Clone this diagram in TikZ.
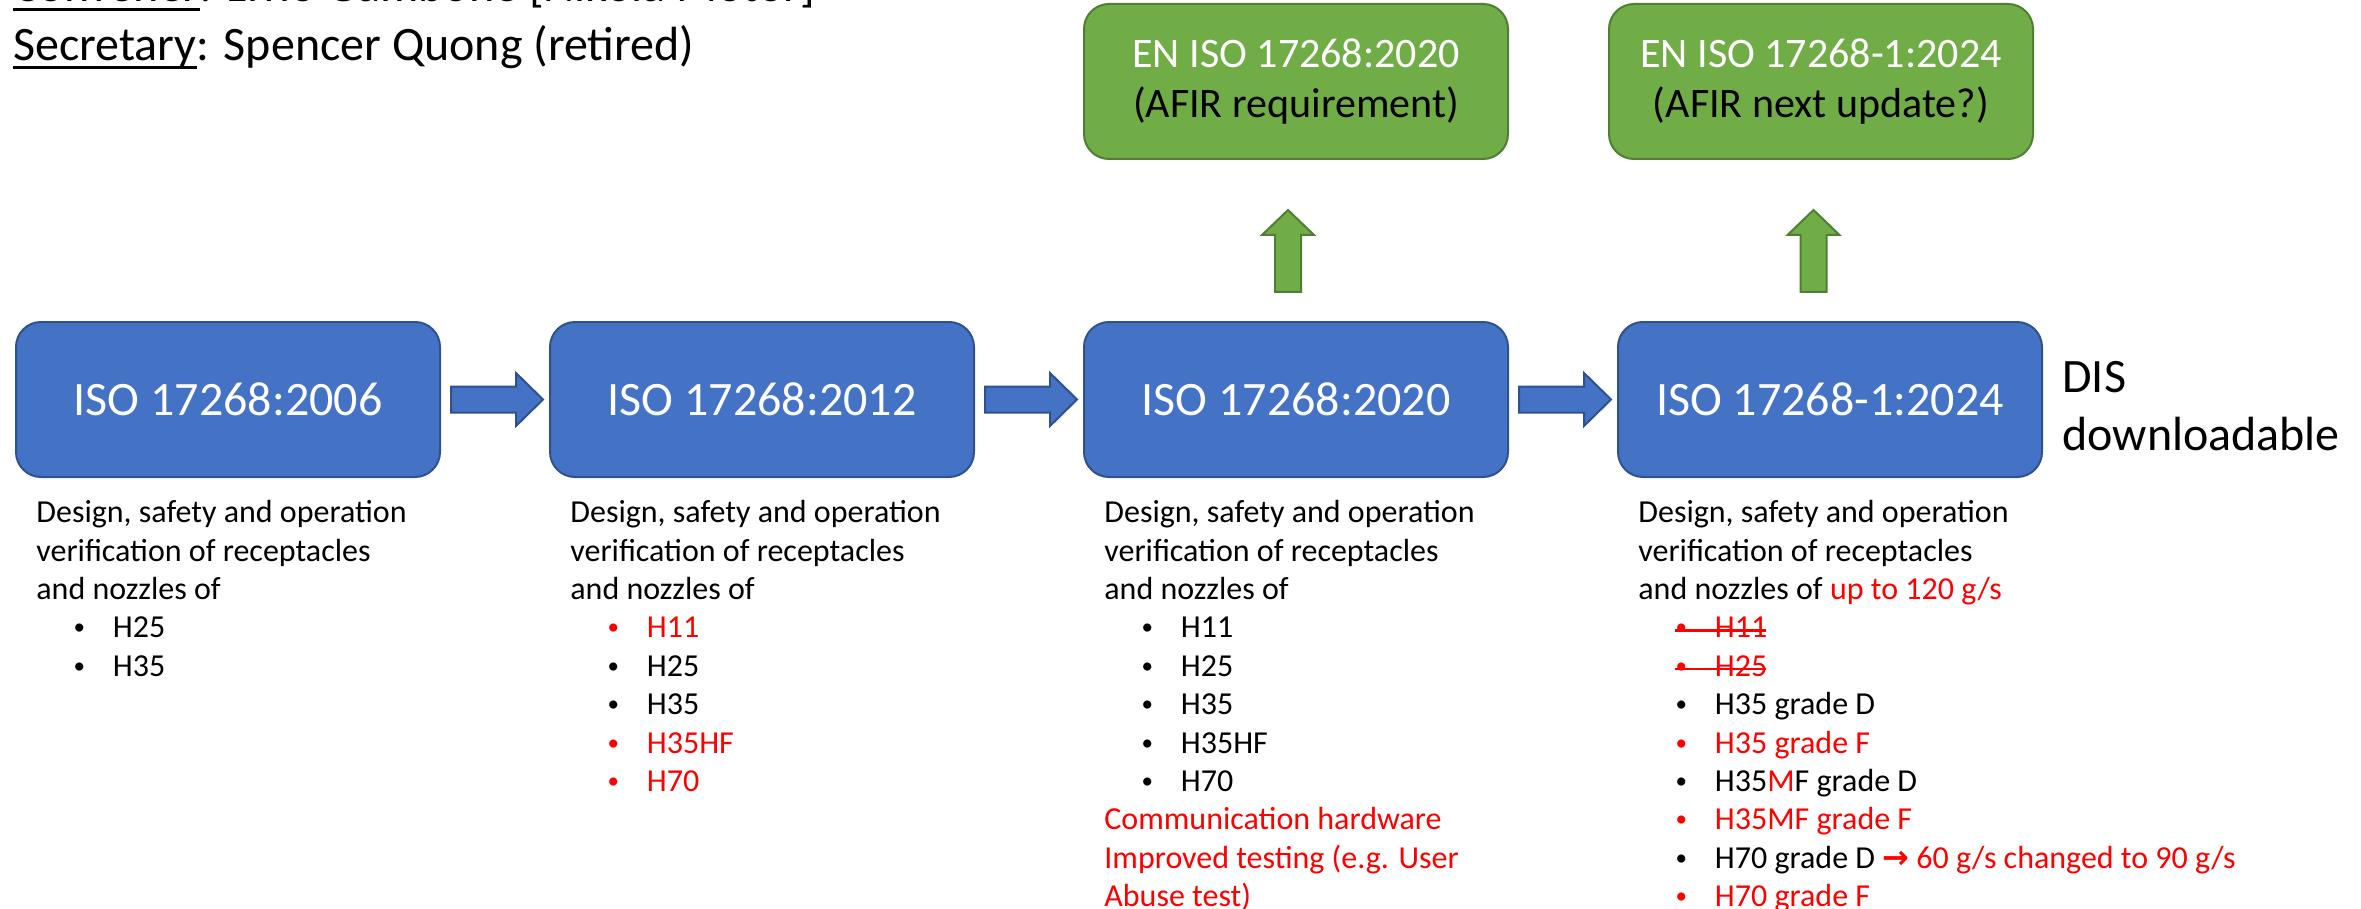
\documentclass[tikz,border=0pt]{standalone}
\usepackage{fontspec}
\setmainfont{Carlito}
\newfontfamily\symfont{DejaVu Sans}
\usetikzlibrary{positioning,calc}

\definecolor{isoblue}{HTML}{4472C4}
\definecolor{isoline}{HTML}{2F528F}
\definecolor{engreen}{HTML}{70AD47}
\definecolor{enline}{HTML}{507E32}
\definecolor{chg}{HTML}{FF0000}

% underlined word, rule set a bit below the baseline
\newcommand{\ulword}[1]{\setbox0\hbox{#1}\rlap{\rule[-4.5pt]{\wd0}{1.5pt}}\box0}
% bullet rows of the lists
\newcommand{\smallbul}{\raisebox{0.09em}{\scalebox{0.72}{\textbullet}}}
\newcommand{\hitem}[2][black]{\hspace*{21.5pt}\makebox[0pt]{\color{#1}\smallbul}\hspace*{16.75pt}\textcolor{#1}{#2}}
\newcommand{\xitem}[1]{\hspace*{18.5pt}\rlap{\color{chg}\rule[3pt]{45.5pt}{1.2pt}}\hspace*{3pt}\makebox[0pt]{\color{chg}\smallbul}\hspace*{16.75pt}\textcolor{chg}{#1}}

\tikzset{
	isobox/.style={draw=isoline, fill=isoblue, line width=1pt, rounded corners=12.5pt,
		minimum width=212pt, minimum height=77.5pt, inner sep=0pt, text=white,
		font=\fontsize{24}{28.8}\selectfont},
	enbox/.style={draw=enline, fill=engreen, line width=1pt, rounded corners=12.5pt,
		minimum width=212pt, minimum height=77.5pt, inner sep=0pt, text=white, align=center,
		font=\fontsize{21}{25.2}\selectfont},
	desc/.style={anchor=north west, align=left, inner sep=0pt, font=\fontsize{16}{19.2}\selectfont},
	big/.style={inner sep=0pt, font=\fontsize{24}{28.8}\selectfont},
	barrow/.style={draw=isoline, fill=isoblue, line width=1pt},
	garrow/.style={draw=enline, fill=engreen, line width=1pt}
}

\begin{document}
\begin{tikzpicture}[x=0.5pt,y=-0.5pt]
	\useasboundingbox (0,0) rectangle (2361,909);
	
	% committee
	\node[big, anchor=base west] (conv) at (13,2) {\ulword{Convener}: Livio Gambone [Nikola Motor]};
	\node[big, anchor=base west] (sec) at (13,60.5) {\ulword{Secretary}: Spencer Quong (retired)};
	
	% editions
	\node[isobox] (iso06) at (228,399.5) {ISO 17268:2006};
	\node[isobox, right=54pt of iso06] (iso12) {ISO 17268:2012};
	\node[isobox, right=54pt of iso12] (iso20) {ISO 17268:2020};
	\node[isobox, right=54pt of iso20] (iso24) {ISO 17268-1:2024};
	\node[big, anchor=north west, align=left] (dis) at ($(iso24.north east)+(19,40)$) {DIS\\downloadable};
	
	\node[enbox, above=80.5pt of iso20] (en20) {EN ISO 17268:2020\\\textcolor{black}{(AFIR requirement)}};
	\node[enbox, above=80.5pt of iso24, xshift=-4.5pt] (en24) {EN ISO 17268-1:2024\\\textcolor{black}{(AFIR next update?)}};
	
	% block arrows
	\draw[barrow] ($(iso06.east)+(10,-13)$) -- ++(65,0) -- ++(0,-13.5) -- ($(iso12.west)+(-6,0)$)
		-- ($(iso06.east)+(75,26.5)$) -- ++(0,-13.5) -- ++(-65,0) -- cycle;
	\draw[barrow] ($(iso12.east)+(10,-13)$) -- ++(65,0) -- ++(0,-13.5) -- ($(iso20.west)+(-6,0)$)
		-- ($(iso12.east)+(75,26.5)$) -- ++(0,-13.5) -- ++(-65,0) -- cycle;
	\draw[barrow] ($(iso20.east)+(10,-13)$) -- ++(65,0) -- ++(0,-13.5) -- ($(iso24.west)+(-6,0)$)
		-- ($(iso20.east)+(75,26.5)$) -- ++(0,-13.5) -- ++(-65,0) -- cycle;
	\draw[garrow] ($(iso20.north)+(-21,-29)$) -- ++(0,-57) -- ++(-13,0) -- ($(en20.south)+(-8,50)$)
		-- ($(iso20.north)+(18,-86)$) -- ++(-13,0) -- ++(0,57) -- cycle;
	\draw[garrow] ($(iso24.north)+(-29.5,-29)$) -- ++(0,-57) -- ++(-13,0) -- ($(en24.south)+(-7.5,50)$)
		-- ($(iso24.north)+(9.5,-86)$) -- ++(-13,0) -- ++(0,57) -- cycle;
	
	% scope of each edition
	\node[desc] (d06) at ($(iso06.south west)+(21,22)$) {Design, safety and operation\\
		verification of receptacles\\
		and nozzles of\\
		\hitem{H25}\\
		\hitem{H35}};
	\node[desc] (d12) at ($(iso12.south west)+(21,22)$) {Design, safety and operation\\
		verification of receptacles\\
		and nozzles of\\
		\hitem[chg]{H11}\\
		\hitem{H25}\\
		\hitem{H35}\\
		\hitem[chg]{H35HF}\\
		\hitem[chg]{H70}};
	\node[desc] (d20) at ($(iso20.south west)+(21,22)$) {Design, safety and operation\\
		verification of receptacles\\
		and nozzles of\\
		\hitem{H11}\\
		\hitem{H25}\\
		\hitem{H35}\\
		\hitem{H35HF}\\
		\hitem{H70}\\
		\textcolor{chg}{Communication hardware}\\
		\textcolor{chg}{Improved testing (e.g. User}\\
		\textcolor{chg}{Abuse test)}};
	\node[desc] (d24) at ($(iso24.south west)+(21,22)$) {Design, safety and operation\\
		verification of receptacles\\
		and nozzles of \textcolor{chg}{up to 120 g/s}\\
		\xitem{H11}\\
		\xitem{H25}\\
		\hitem{H35 grade D}\\
		\hitem[chg]{H35 grade F}\\
		\hitem{H35\textcolor{chg}{M}F grade D}\\
		\hitem[chg]{H35MF grade F}\\
		\hitem{H70 grade D \textcolor{chg}{{\symfont\bfseries →} 60 g/s changed to 90 g/s}}\\
		\hitem[chg]{H70 grade F}};
\end{tikzpicture}
\end{document}
